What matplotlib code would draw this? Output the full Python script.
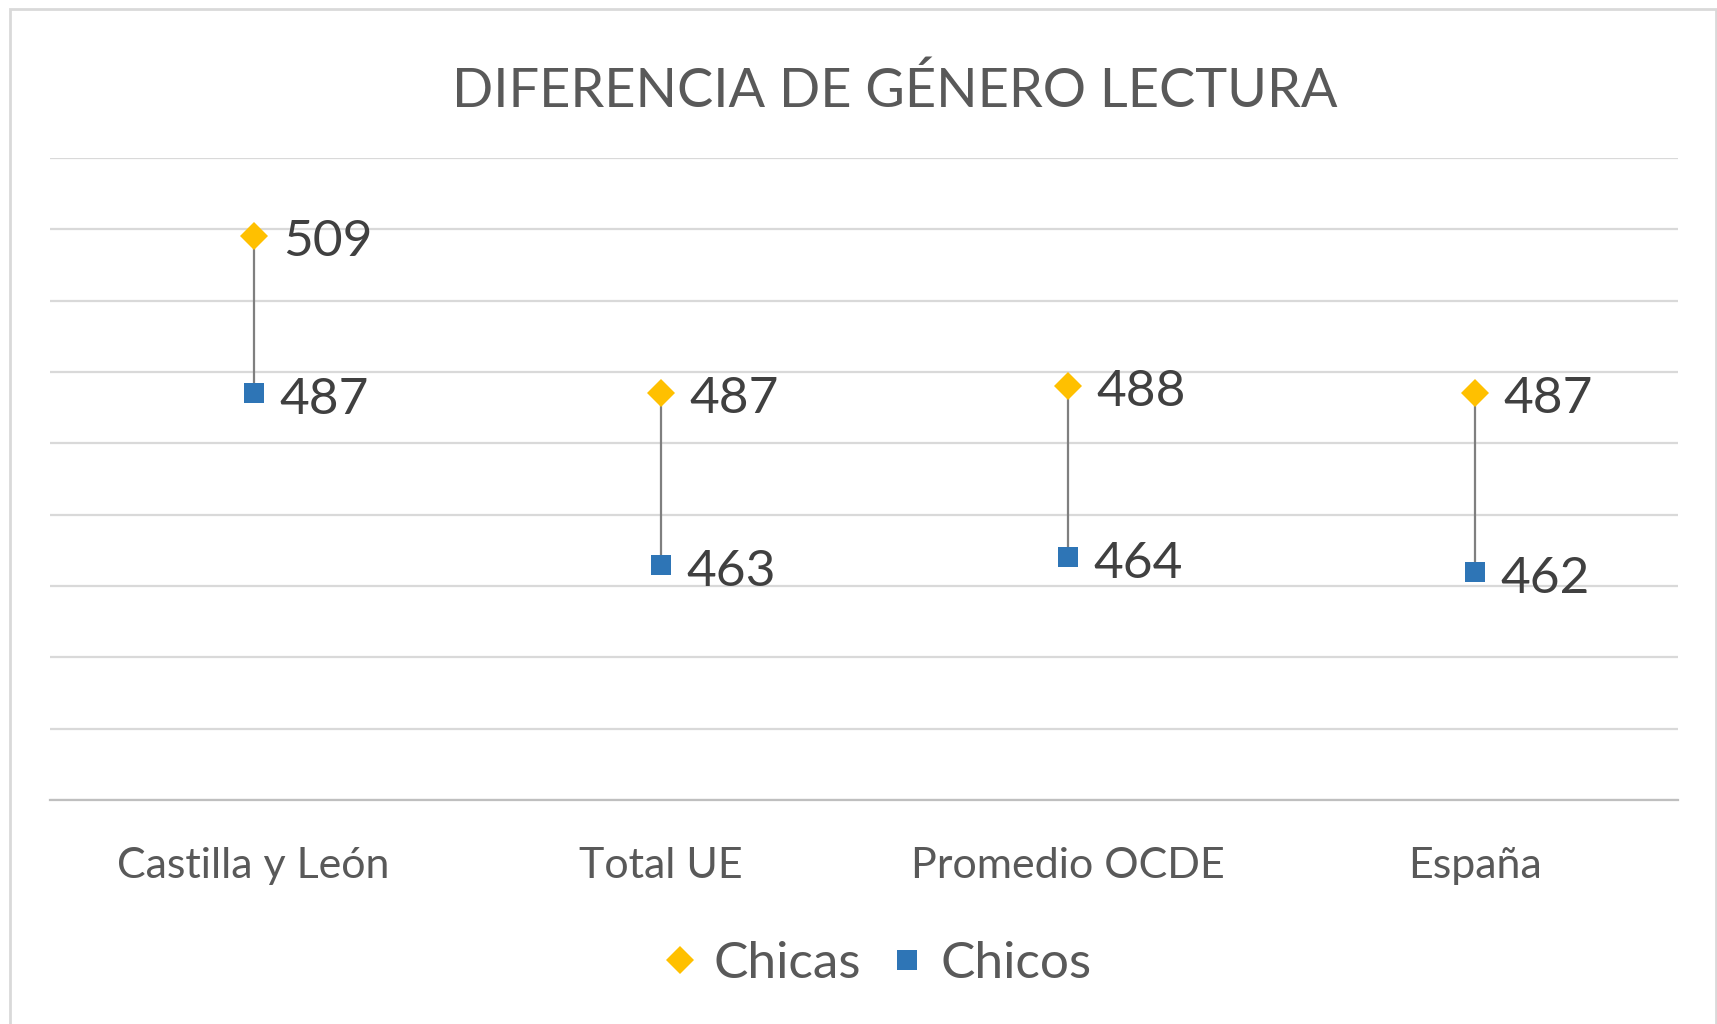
import matplotlib.pyplot as plt
from matplotlib.patches import Rectangle
from matplotlib.lines import Line2D

plt.rcParams['font.family'] = ['Lato', 'DejaVu Sans']

# reading scores by region
regiones = ['Castilla y León', 'Total UE', 'Promedio OCDE', 'España']
chicas = [509, 487, 488, 487]
chicos = [487, 463, 464, 462]

gris_txt = '#595959'
amarillo = '#FFC000'
azul = '#2E75B6'

fig = plt.figure(figsize=(17.17, 10.24), dpi=100)
fig.patches.append(Rectangle((10 / 1717, -0.05), (1716 - 10) / 1717, 1.05 - 9 / 1024,
                             transform=fig.transFigure, fill=False,
                             edgecolor='#d9d9d9', linewidth=2))

ax = fig.add_axes([50 / 1717, 1 - 800 / 1024, (1678 - 50) / 1717, (800 - 158) / 1024])
x = range(len(regiones))

# vertical gap between the two scores
ax.vlines(x, chicos, chicas, color='#7f7f7f', linewidth=1.6, zorder=2)
ax.plot(x, chicas, linestyle='none', marker='D', markersize=14, color=amarillo,
        markeredgewidth=0, zorder=3)
ax.plot(x, chicos, linestyle='none', marker='s', markersize=15, color=azul,
        markeredgewidth=0, zorder=3)

for i in x:
    ax.annotate(str(chicas[i]), (i, chicas[i]), xytext=(21, -4), textcoords='offset points',
                va='center', ha='left', fontsize=37, color='#404040')
    ax.annotate(str(chicos[i]), (i, chicos[i]), xytext=(19, -5), textcoords='offset points',
                va='center', ha='left', fontsize=37, color='#404040')

ax.set_xlim(-0.5, 3.5)
ax.set_ylim(430, 520)
ax.set_yticks(range(430, 521, 10))
ax.set_yticklabels([])
ax.tick_params(axis='y', length=0)
ax.tick_params(axis='x', length=0, pad=34)
ax.set_xticks(list(x))
ax.set_xticklabels(regiones, fontsize=31, color=gris_txt)
ax.grid(axis='y', color='#d9d9d9', linewidth=1.6)
ax.set_axisbelow(True)
for s in ['top', 'right', 'left']:
    ax.spines[s].set_visible(False)
ax.spines['bottom'].set_color('#bfbfbf')
ax.spines['bottom'].set_linewidth(1.6)

fig.text(0.521, 1 - 91 / 1024, 'DIFERENCIA DE GÉNERO LECTURA', ha='center', va='center',
         fontsize=39, color=gris_txt)

handles = [Line2D([], [], linestyle='none', marker='D', markersize=14, color=amarillo,
                  markeredgewidth=0),
           Line2D([], [], linestyle='none', marker='s', markersize=15, color=azul,
                  markeredgewidth=0)]
fig.legend(handles, ['Chicas', 'Chicos'], loc='center', bbox_to_anchor=(0.509, 1 - 964 / 1024),
           ncol=2, frameon=False, fontsize=37, labelcolor=gris_txt,
           handletextpad=0.2, columnspacing=0.45, handlelength=0.9)

fig.savefig('out.png', dpi=100, facecolor='white')
